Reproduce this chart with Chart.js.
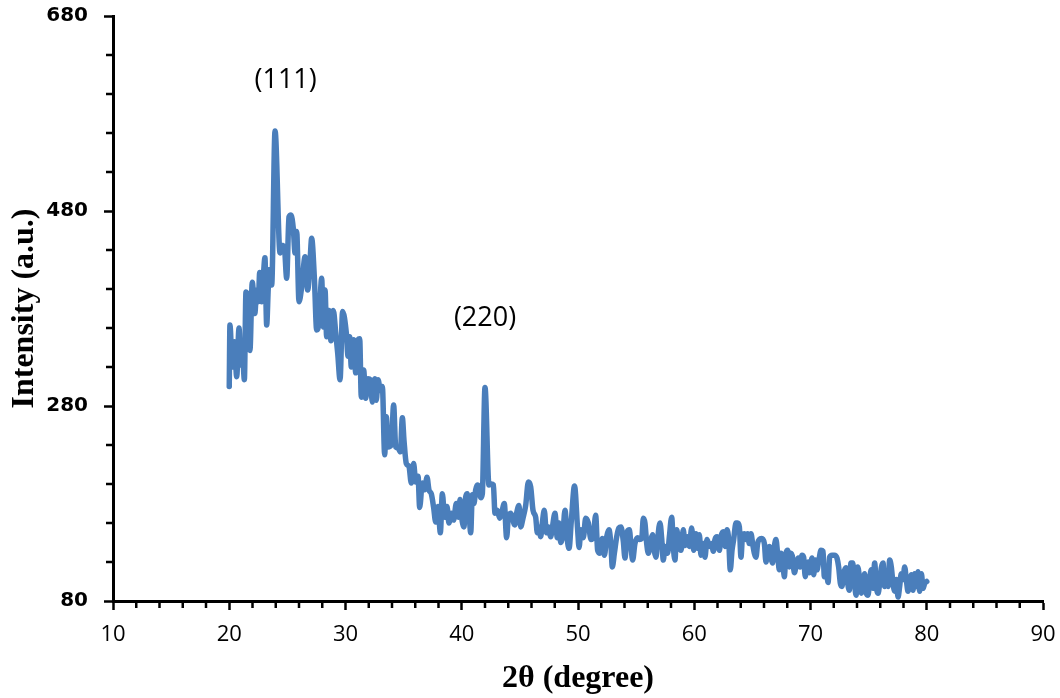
<!DOCTYPE html>
<html>
<head>
<meta charset="utf-8">
<script src="https://cdn.jsdelivr.net/npm/chart.js@4.4.1/dist/chart.umd.min.js"></script>
<style>
  html, body { margin: 0; padding: 0; background: #fff; }
  #wrap { width: 1060px; height: 698px; }
</style>
</head>
<body>
<div id="wrap"><canvas id="xrdChart" width="1060" height="698"></canvas></div>
<script>
// XRD pattern (2θ in degrees, intensity in a.u.)
const twoTheta = [
  20.0, 20.06, 20.26, 20.44, 20.64, 20.84, 21.0, 21.13, 21.3, 21.44, 21.58, 21.78, 21.98, 22.2, 22.36, 22.5,
  22.62, 22.79, 22.93, 23.07, 23.22, 23.36, 23.48, 23.65, 23.94, 24.37, 24.51, 24.74, 24.94, 25.14, 25.31, 25.51,
  25.66, 25.8, 26.0, 26.23, 26.52, 26.75, 26.95, 27.09, 27.32, 27.52, 27.72, 27.95, 28.09, 28.24, 28.38, 28.58,
  28.75, 28.95, 29.16, 29.33, 29.53, 29.75, 30.07, 30.22, 30.36, 30.5, 30.7, 30.88, 31.08, 31.22, 31.36, 31.56,
  31.74, 31.94, 32.14, 32.31, 32.51, 32.65, 32.8, 33.0, 33.17, 33.37, 33.51, 33.66, 33.94, 34.14, 34.32, 34.52,
  34.72, 34.89, 35.03, 35.23, 35.46, 35.66, 35.86, 36.04, 36.24, 36.38, 36.61, 36.81, 37.01, 37.18, 37.38, 37.58,
  37.76, 37.96, 38.16, 38.33, 38.53, 38.73, 38.9, 39.1, 39.3, 39.53, 39.73, 39.85, 39.99, 40.19, 40.34, 40.48,
  40.62, 40.77, 40.91, 41.05, 41.2, 41.34, 41.48, 41.63, 41.77, 42.0, 42.34, 42.54, 42.72, 42.86, 43.06, 43.26,
  43.43, 43.66, 43.86, 44.01, 44.21, 44.35, 44.55, 44.72, 44.92, 45.07, 45.27, 45.5, 45.73, 45.93, 46.13, 46.36,
  46.5, 46.64, 46.79, 46.93, 47.1, 47.28, 47.45, 47.65, 47.79, 48.02, 48.22, 48.37, 48.51, 48.71, 48.88, 49.08,
  49.23, 49.43, 49.7, 49.97, 50.09, 50.26, 50.46, 50.66, 50.89, 51.12, 51.32, 51.52, 51.69, 51.89, 52.09, 52.27,
  52.47, 52.67, 52.84, 52.95, 53.13, 53.33, 53.53, 53.7, 53.9, 54.04, 54.24, 54.42, 54.56, 54.7, 54.9, 55.13,
  55.28, 55.48, 55.62, 55.76, 55.91, 56.05, 56.28, 56.42, 56.57, 56.71, 56.85, 57.05, 57.2, 57.34, 57.48, 57.71,
  57.86, 58.06, 58.2, 58.34, 58.49, 58.69, 58.86, 59.06, 59.2, 59.41, 59.58, 59.78, 59.95, 60.15, 60.29, 60.44,
  60.58, 60.78, 60.92, 61.1, 61.3, 61.5, 61.64, 61.78, 61.96, 62.16, 62.3, 62.5, 62.67, 62.82, 62.96, 63.1,
  63.25, 63.39, 63.59, 63.73, 63.88, 64.02, 64.16, 64.31, 64.45, 64.59, 64.74, 64.88, 65.02, 65.17, 65.31, 65.45,
  65.6, 65.8, 66.03, 66.17, 66.31, 66.46, 66.6, 66.74, 66.89, 67.03, 67.18, 67.32, 67.46, 67.61, 67.75, 67.89,
  68.04, 68.18, 68.32, 68.47, 68.61, 68.81, 68.95, 69.1, 69.27, 69.41, 69.55, 69.7, 69.79, 69.93, 70.13, 70.27,
  70.42, 70.56, 70.7, 70.9, 71.08, 71.19, 71.36, 71.51, 71.65, 71.85, 72.05, 72.28, 72.42, 72.57, 72.71, 72.85,
  73.05, 73.2, 73.34, 73.48, 73.63, 73.77, 73.92, 74.06, 74.23, 74.37, 74.52, 74.66, 74.8, 74.95, 75.09, 75.23,
  75.38, 75.52, 75.66, 75.81, 75.95, 76.09, 76.24, 76.38, 76.52, 76.67, 76.81, 76.95, 77.1, 77.24, 77.38, 77.53,
  77.67, 77.81, 77.96, 78.1, 78.24, 78.39, 78.53, 78.68, 78.82, 78.96, 79.1, 79.25, 79.39, 79.54, 79.68, 79.82,
  80.0
];
const intensity = [
  300, 363, 320, 346, 310, 360, 322, 337, 307, 397, 392, 337, 407, 375, 399, 387,
  417, 387, 412, 432, 363, 402, 420, 404, 562, 437, 445, 443, 411, 474, 476, 462,
  437, 459, 387, 402, 433, 399, 429, 452, 412, 358, 366, 411, 361, 399, 351, 378,
  347, 378, 355, 334, 307, 377, 355, 331, 351, 320, 348, 314, 348, 349, 289, 317,
  288, 308, 307, 284, 308, 286, 307, 296, 300, 230, 269, 238, 240, 281, 238, 237,
  233, 268, 245, 221, 218, 201, 221, 202, 208, 176, 201, 194, 207, 194, 190, 176,
  161, 177, 150, 190, 166, 177, 160, 170, 163, 180, 166, 184, 166, 156, 187, 190,
  173, 150, 189, 180, 194, 199, 197, 186, 190, 299, 199, 200, 199, 170, 173, 165,
  170, 180, 145, 166, 170, 166, 158, 170, 178, 156, 165, 178, 202, 197, 173, 166,
  150, 156, 146, 160, 173, 150, 156, 146, 155, 170, 145, 160, 140, 150, 173, 143,
  134, 163, 198, 153, 135, 153, 145, 165, 160, 143, 146, 168, 132, 129, 144, 127,
  146, 153, 136, 115, 129, 146, 155, 156, 141, 124, 151, 153, 136, 122, 139, 145,
  143, 144, 165, 160, 139, 129, 143, 148, 131, 125, 143, 160, 144, 122, 136, 129,
  146, 166, 136, 122, 153, 136, 132, 153, 137, 146, 136, 155, 132, 149, 134, 148,
  127, 139, 125, 143, 136, 139, 131, 143, 146, 132, 146, 151, 136, 153, 143, 112,
  132, 143, 160, 160, 156, 125, 148, 149, 143, 149, 139, 149, 139, 129, 125, 139,
  143, 144, 139, 120, 132, 136, 125, 119, 136, 143, 127, 112, 129, 122, 105, 129,
  132, 115, 129, 124, 109, 119, 124, 115, 127, 125, 105, 119, 120, 109, 124, 107,
  122, 112, 120, 132, 131, 105, 112, 99, 125, 127, 127, 124, 115, 98, 95, 108,
  114, 98, 91, 119, 119, 102, 86, 115, 102, 88, 98, 108, 88, 86, 102, 112,
  93, 119, 95, 88, 98, 114, 119, 95, 108, 95, 122, 115, 98, 90, 102, 84,
  95, 108, 102, 115, 102, 90, 98, 107, 91, 108, 95, 110, 90, 108, 93, 98,
  100
];

const xTicks = [10, 20, 30, 40, 50, 60, 70, 80, 90];
const yTicks = [80, 280, 480, 680];
const xMinorStep = 2;
const yMinorStep = 40;

const peakNames = ['(111)', '(220)'];
const peakTheta = [24.85, 42.0];
const peakLevel = [614, 370];

const BLUE = '#4A7EBB';

// Chart.js has no minor ticks, so draw them off the scales
const minorTicks = {
    id: 'minorTicks',
    afterDraw(chart) {
        const { ctx } = chart;
        const x = chart.scales.x;
        const y = chart.scales.y;
        ctx.save();
        ctx.strokeStyle = '#000';
        ctx.lineWidth = 2.5;
        ctx.beginPath();
        for (let v = x.min + xMinorStep; v < x.max; v += xMinorStep) {
            if (xTicks.includes(v)) continue;
            const px = x.getPixelForValue(v);
            ctx.moveTo(px, y.bottom);
            ctx.lineTo(px, y.bottom + 7);
        }
        for (let v = y.min + yMinorStep; v < y.max; v += yMinorStep) {
            if (yTicks.includes(v)) continue;
            const py = y.getPixelForValue(v);
            ctx.moveTo(x.left, py);
            ctx.lineTo(x.left - 7, py);
        }
        ctx.stroke();
        ctx.restore();
    }
};

// (hkl) labels over the peaks
const peakTags = {
    id: 'peakTags',
    afterDatasetsDraw(chart) {
        const { ctx } = chart;
        ctx.save();
        ctx.fillStyle = '#000';
        ctx.font = '27px "Open Sans"';
        ctx.textAlign = 'center';
        ctx.textBaseline = 'middle';
        peakNames.forEach((name, i) => {
            const px = chart.scales.x.getPixelForValue(peakTheta[i]);
            const py = chart.scales.y.getPixelForValue(peakLevel[i]);
            ctx.fillText(name, px, py);
        });
        ctx.restore();
    }
};

const ctx = document.getElementById('xrdChart');
new Chart(ctx, {
    type: 'line',
    data: {
        datasets: [{
            label: 'XRD',
            data: twoTheta.map((t, i) => ({ x: t, y: intensity[i] })),
            borderColor: BLUE,
            borderWidth: 5.5,
            pointRadius: 0,
            cubicInterpolationMode: 'monotone',
            borderJoinStyle: 'round',
            borderCapStyle: 'round',
            fill: false
        }]
    },
    options: {
        responsive: false,
        animation: false,
        devicePixelRatio: 1,
        layout: { padding: { top: 16, right: 17, left: 0, bottom: 0 } },
        plugins: {
            legend: { display: false },
            tooltip: { enabled: false }
        },
        scales: {
            x: {
                type: 'linear',
                min: 10,
                max: 90,
                afterBuildTicks: (s) => { s.ticks = xTicks.map(v => ({ value: v })); },
                afterFit: (s) => { s.height = 97; s.paddingLeft = 0; s.paddingRight = 0; },
                border: { color: '#000', width: 3 },
                grid: { drawOnChartArea: false, drawTicks: true, tickLength: 9, tickWidth: 2.5, tickColor: '#000' },
                ticks: { color: '#000', font: { family: 'Open Sans', size: 22 }, padding: 12, maxRotation: 0, autoSkip: false },
                title: {
                    display: true,
                    text: '2θ (degree)',
                    color: '#000',
                    font: { family: 'Liberation Serif', size: 32, weight: 'bold' },
                    padding: { top: 0, bottom: 0 }
                }
            },
            y: {
                type: 'linear',
                min: 80,
                max: 680,
                afterBuildTicks: (s) => { s.ticks = yTicks.map(v => ({ value: v })); },
                afterFit: (s) => { s.width = 113; s.paddingTop = 0; s.paddingBottom = 0; },
                border: { color: '#000', width: 3 },
                grid: { drawOnChartArea: false, drawTicks: true, tickLength: 9, tickWidth: 2.5, tickColor: '#000' },
                ticks: { color: '#000', font: { family: 'DejaVu Sans', size: 20, weight: 'bold' }, padding: 16 },
                title: {
                    display: true,
                    text: 'Intensity (a.u.)',
                    color: '#000',
                    font: { family: 'Liberation Serif', size: 32, weight: 'bold' },
                    padding: { top: 6, bottom: 0 }
                }
            }
        }
    },
    plugins: [minorTicks, peakTags]
});
</script>
</body>
</html>
